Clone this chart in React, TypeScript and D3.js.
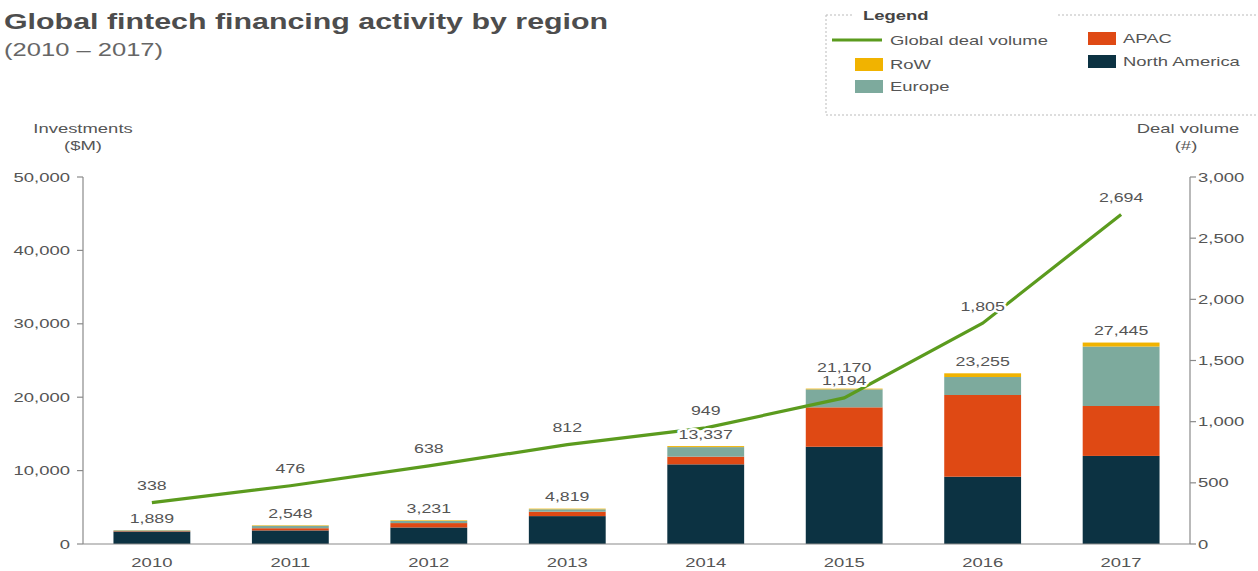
import React from "react";
import * as d3 from "d3";

const years = ["2010", "2011", "2012", "2013", "2014", "2015", "2016", "2017"];
const northAmerica = [1700, 1850, 2250, 3800, 10850, 13250, 9170, 12000];
const apac = [60, 300, 600, 600, 1050, 5370, 11130, 6800];
const europe = [100, 330, 300, 330, 1300, 2450, 2450, 8100];
const row = [29, 68, 81, 89, 137, 100, 505, 545];
const totals = [1889, 2548, 3231, 4819, 13337, 21170, 23255, 27445];
const dealVolume = [338, 476, 638, 812, 949, 1194, 1805, 2694];
const leftTicks = [0, 10000, 20000, 30000, 40000, 50000];
const rightTicks = [0, 500, 1000, 1500, 2000, 2500, 3000];

const seriesKeys = ["North America", "APAC", "Europe", "RoW"];
const seriesData: Record<string, number[]> = {
  "North America": northAmerica,
  APAC: apac,
  Europe: europe,
  RoW: row,
};
const colors: Record<string, string> = {
  "North America": "#0c3242",
  APAC: "#df4914",
  Europe: "#7daa9d",
  RoW: "#f1b300",
};
const lineColor = "#5b9b1e";
const textColor = "#555";
const FONT = "'Liberation Sans', Arial, sans-serif";
const SX = 1.42;

const W = 1258;
const H = 571;
const left = 83;
const right = 1190;
const top = 177;
const bottom = 544;

function T(props: {
  x: number;
  y: number;
  size: number;
  anchor?: string;
  weight?: string | number;
  fill?: string;
  halo?: boolean;
  children: React.ReactNode;
}) {
  const { x, y, size, anchor = "middle", weight = "normal", fill = textColor, halo, children } = props;
  return (
    <text
      transform={`translate(${x},${y}) scale(${SX},1)`}
      textAnchor={anchor as any}
      fontSize={size}
      fontFamily={FONT}
      fontWeight={weight}
      fill={fill}
      stroke={halo ? "#fff" : undefined}
      strokeWidth={halo ? 4 : undefined}
      strokeLinejoin="round"
      paintOrder="stroke"
    >
      {children}
    </text>
  );
}

export default function App() {
  const x = d3.scaleBand<string>().domain(years).range([left, right]).paddingInner(0.445).paddingOuter(0.22);
  const yL = d3.scaleLinear().domain([0, 50000]).range([bottom, top]);
  const yR = d3.scaleLinear().domain([0, 3000]).range([bottom, top]);
  const fmt = d3.format(",");

  const table = years.map((yr, i) => {
    const o: any = { year: yr };
    seriesKeys.forEach((k) => (o[k] = seriesData[k][i]));
    return o;
  });
  const stacked = d3.stack<any>().keys(seriesKeys)(table);

  const cx = (yr: string) => (x(yr) as number) + x.bandwidth() / 2;
  const line = d3
    .line<number>()
    .x((_, i) => cx(years[i]))
    .y((d) => yR(d));

  return (
    <svg width={W} height={H} style={{ position: "absolute", left: 0, top: 0, background: "#fff" }}>
      {/* Title */}
      <T x={4} y={29} size={21.4} anchor="start" weight="bold" fill="#4d4d4d">
        Global fintech financing activity by region
      </T>
      <T x={4} y={56} size={18} anchor="start" fill="#666">
        (2010 – 2017)
      </T>

      {/* Legend */}
      <g stroke="#bbb" strokeDasharray="2,2" fill="none">
        <line x1={826} x2={852} y1={15} y2={15} />
        <line x1={1058} x2={1258} y1={15} y2={15} />
        <line x1={826} x2={826} y1={15} y2={115} />
        <line x1={826} x2={1258} y1={115} y2={115} />
      </g>
      <T x={863} y={20} size={13} anchor="start" weight="bold" fill="#444">
        Legend
      </T>
      <line x1={832} x2={882} y1={40} y2={40} stroke={lineColor} strokeWidth={3} />
      <T x={890} y={45} size={13} anchor="start">
        Global deal volume
      </T>
      {[
        { k: "RoW", sx: 855, sy: 58 },
        { k: "Europe", sx: 855, sy: 80 },
        { k: "APAC", sx: 1088, sy: 32 },
        { k: "North America", sx: 1088, sy: 55 },
      ].map((d) => (
        <g key={d.k}>
          <rect x={d.sx} y={d.sy} width={28} height={13} fill={colors[d.k]} />
          <T x={d.sx + 35} y={d.sy + 11} size={13} anchor="start">
            {d.k}
          </T>
        </g>
      ))}

      {/* Axis titles */}
      <T x={83} y={133} size={13}>Investments</T>
      <T x={83} y={150} size={13}>($M)</T>
      <T x={1188} y={133} size={13}>Deal volume</T>
      <T x={1186} y={150} size={13}>(#)</T>

      {/* Bars */}
      {stacked.map((s) => (
        <g key={s.key} fill={colors[s.key]}>
          {s.map((d, i) => (
            <rect
              key={i}
              x={x(years[i])}
              width={x.bandwidth()}
              y={yL(d[1])}
              height={yL(d[0]) - yL(d[1])}
            />
          ))}
        </g>
      ))}

      {/* Axes */}
      <g stroke="#8a8a8a" strokeWidth={1.2} fill="none">
        <line x1={left} x2={left} y1={top} y2={bottom} />
        <line x1={right} x2={right} y1={top} y2={bottom} />
        <line x1={left} x2={right} y1={bottom} y2={bottom} />
        {leftTicks.map((t) => (
          <line key={t} x1={left - 6} x2={left} y1={yL(t)} y2={yL(t)} />
        ))}
        {rightTicks.map((t) => (
          <line key={t} x1={right} x2={right + 6} y1={yR(t)} y2={yR(t)} />
        ))}
      </g>
      {leftTicks.map((t) => (
        <T key={t} x={70} y={yL(t) + 4.5} size={13} anchor="end">
          {fmt(t)}
        </T>
      ))}
      {rightTicks.map((t) => (
        <T key={t} x={1198} y={yR(t) + 4.5} size={13} anchor="start">
          {fmt(t)}
        </T>
      ))}
      {years.map((yr) => (
        <T key={yr} x={cx(yr)} y={567} size={13}>
          {yr}
        </T>
      ))}

      {/* Deal volume line */}
      <path d={line(dealVolume) || ""} fill="none" stroke={lineColor} strokeWidth={3.2} />

      {/* Labels */}
      {years.map((yr, i) => {
        const dealY = yR(dealVolume[i]) - 14;
        let totY = yL(totals[i]) - 12;
        if (Math.abs(totY - dealY) < 14) totY = dealY - 16;
        return (
          <g key={yr}>
            <T x={cx(yr)} y={totY + 4.5} size={12.5} halo>
              {fmt(totals[i])}
            </T>
            <T x={cx(yr)} y={dealY + 1.5} size={12.5} halo>
              {fmt(dealVolume[i])}
            </T>
          </g>
        );
      })}
    </svg>
  );
}
